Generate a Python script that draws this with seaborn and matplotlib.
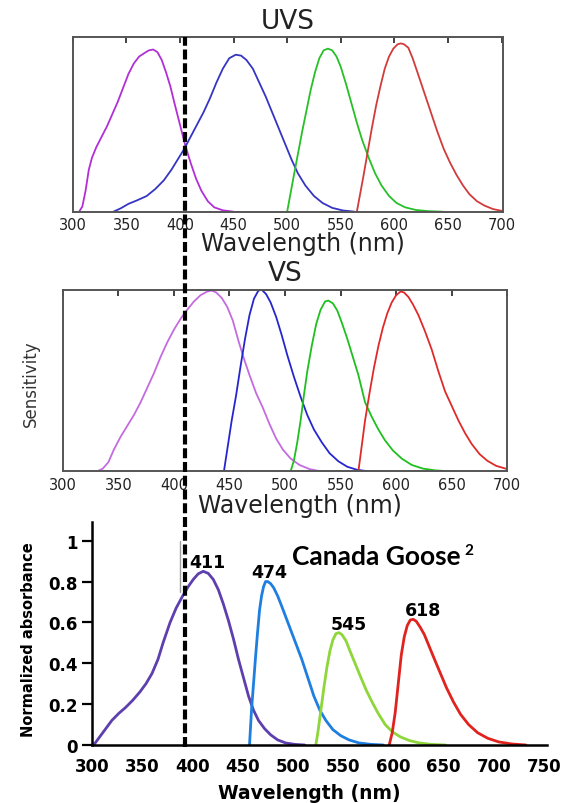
import matplotlib
matplotlib.use("Agg")
import numpy as np
import pandas as pd
import matplotlib.pyplot as plt
from matplotlib.lines import Line2D
import seaborn as sns

# ---- UVS panel: relative sensitivity ----
uvs_violet_nm = [306, 309, 312, 315, 318, 322, 327, 332, 337, 342, 347, 352, 357, 362, 367, 371,
                 375, 379, 383, 387, 391, 395, 400, 405, 410, 415, 420, 426, 432, 440, 450]
uvs_violet = [0, 0.03, 0.12, 0.24, 0.31, 0.37, 0.43, 0.49, 0.56, 0.63, 0.71, 0.79, 0.85, 0.89, 0.91, 0.925,
              0.93, 0.915, 0.87, 0.80, 0.72, 0.62, 0.50, 0.38, 0.28, 0.19, 0.12, 0.06, 0.025, 0.008, 0]
uvs_blue_nm = [338, 345, 352, 360, 369, 377, 385, 392, 398, 404, 410, 416, 422, 428, 434, 440, 446,
               452, 457, 462, 468, 474, 480, 486, 492, 498, 504, 510, 517, 525, 533, 542, 552, 563]
uvs_blue = [0, 0.02, 0.045, 0.065, 0.09, 0.13, 0.18, 0.24, 0.30, 0.36, 0.43, 0.50, 0.57, 0.65, 0.74, 0.82, 0.88,
            0.90, 0.895, 0.87, 0.82, 0.74, 0.66, 0.57, 0.48, 0.39, 0.30, 0.22, 0.15, 0.09, 0.05, 0.022, 0.007, 0]
uvs_green_nm = [500, 503, 506, 510, 514, 518, 522, 526, 530, 534, 538, 542, 546, 550, 555, 560, 565,
                570, 576, 582, 588, 595, 602, 610, 620, 632, 645]
uvs_green = [0, 0.1, 0.2, 0.33, 0.46, 0.58, 0.70, 0.80, 0.88, 0.925, 0.935, 0.925, 0.89, 0.83, 0.73, 0.62, 0.51,
             0.41, 0.31, 0.22, 0.15, 0.09, 0.05, 0.025, 0.01, 0.003, 0]
uvs_red_nm = [565, 568, 571, 575, 579, 583, 587, 591, 595, 599, 603, 606, 609, 613, 617, 622, 628, 634,
              640, 646, 652, 658, 664, 670, 677, 684, 692, 700]
uvs_red = [0, 0.1, 0.2, 0.34, 0.48, 0.61, 0.72, 0.82, 0.89, 0.935, 0.96, 0.965, 0.96, 0.94, 0.88, 0.79, 0.68, 0.57,
           0.46, 0.36, 0.28, 0.21, 0.15, 0.10, 0.06, 0.035, 0.015, 0.005]

# ---- VS panel ----
vs_violet_nm = [331, 336, 341, 346, 352, 358, 364, 370, 376, 382, 388, 394, 400, 406, 412, 418, 424, 430,
                434, 438, 443, 448, 453, 458, 463, 468, 474, 480, 486, 492, 498, 505, 513, 522, 532]
vs_violet = [0, 0.015, 0.05, 0.12, 0.19, 0.25, 0.31, 0.38, 0.46, 0.54, 0.63, 0.71, 0.78, 0.84, 0.89, 0.935, 0.97, 0.99,
             0.995, 0.985, 0.955, 0.905, 0.83, 0.72, 0.62, 0.53, 0.43, 0.35, 0.26, 0.18, 0.12, 0.07, 0.035, 0.012, 0]
vs_blue_nm = [445, 448, 452, 456, 460, 464, 468, 472, 476, 479, 483, 487, 492, 497, 502, 508, 514, 520,
              526, 533, 540, 548, 556, 565, 575]
vs_blue = [0, 0.12, 0.28, 0.42, 0.58, 0.73, 0.86, 0.95, 0.995, 1.0, 0.975, 0.93, 0.85, 0.75, 0.64, 0.52, 0.41, 0.31,
           0.23, 0.16, 0.10, 0.055, 0.025, 0.008, 0]
vs_green_nm = [505, 508, 511, 514, 517, 520, 524, 528, 532, 536, 539, 543, 547, 551, 556, 561, 566, 572,
               578, 584, 590, 597, 605, 614, 624, 635, 648]
vs_green = [0, 0.06, 0.16, 0.28, 0.42, 0.55, 0.69, 0.81, 0.89, 0.935, 0.94, 0.925, 0.885, 0.82, 0.73, 0.63, 0.53, 0.38,
            0.30, 0.23, 0.17, 0.115, 0.07, 0.035, 0.015, 0.005, 0]
vs_red_nm = [566, 569, 572, 576, 580, 584, 588, 592, 596, 600, 604, 607, 611, 615, 620, 626, 632, 638,
             644, 650, 656, 662, 668, 675, 682, 690, 700]
vs_red = [0, 0.14, 0.28, 0.43, 0.57, 0.69, 0.79, 0.87, 0.93, 0.97, 0.99, 0.985, 0.96, 0.92, 0.86, 0.77, 0.67, 0.55,
          0.44, 0.36, 0.28, 0.21, 0.15, 0.095, 0.058, 0.03, 0.012]

# ---- Canada goose normalized absorbance ----
goose_peaks = [411, 474, 545, 618]
goose_violet_nm = [302, 308, 314, 320, 327, 334, 341, 348, 354, 360, 366, 371, 378, 384, 390, 396, 401, 406,
                   411, 416, 421, 426, 431, 436, 441, 446, 451, 456, 461, 466, 472, 478, 485, 493, 502, 512]
goose_violet = [0, 0.04, 0.08, 0.12, 0.155, 0.185, 0.22, 0.26, 0.30, 0.35, 0.42, 0.50, 0.60, 0.67, 0.725, 0.775, 0.81, 0.838,
                0.85, 0.84, 0.81, 0.76, 0.69, 0.61, 0.52, 0.42, 0.33, 0.24, 0.17, 0.12, 0.08, 0.05, 0.025, 0.01, 0.003, 0]
goose_blue_nm = [457, 459, 461, 463, 465, 467, 469, 471, 473, 475, 478, 481, 485, 489, 494, 499, 504, 509,
                 515, 521, 527, 533, 540, 548, 556, 566, 578, 590]
goose_blue = [0, 0.17, 0.3, 0.43, 0.55, 0.66, 0.73, 0.775, 0.8, 0.8, 0.79, 0.77, 0.73, 0.68, 0.615, 0.55, 0.485, 0.42,
              0.33, 0.24, 0.17, 0.12, 0.075, 0.045, 0.025, 0.01, 0.003, 0]
goose_green_nm = [523, 525, 528, 531, 534, 537, 540, 543, 546, 549, 553, 557, 562, 567, 573, 579, 585, 592,
                  599, 607, 616, 626, 638, 652]
goose_green = [0, 0.06, 0.17, 0.28, 0.38, 0.46, 0.515, 0.545, 0.55, 0.54, 0.51, 0.46, 0.40, 0.34, 0.27, 0.21, 0.155, 0.10,
               0.065, 0.04, 0.022, 0.01, 0.003, 0]
goose_red_nm = [596, 599, 602, 605, 608, 611, 614, 617, 620, 623, 627, 631, 636, 641, 647, 653, 660, 667,
                675, 684, 694, 705, 718, 732]
goose_red = [0, 0.06, 0.16, 0.3, 0.44, 0.53, 0.585, 0.612, 0.615, 0.605, 0.575, 0.54, 0.48, 0.42, 0.35, 0.28, 0.21, 0.15,
             0.1, 0.06, 0.033, 0.015, 0.005, 0]

# dashed cut line (goose axis units) and the grey scan artefact next to it
cutoff_nm = 393
artefact_nm = 388
artefact_span = [0.75, 1.0]


def long_table(curves):
    frames = []
    for name, (nm, val) in curves.items():
        frames.append(pd.DataFrame({"nm": nm, "val": val, "cone": name}))
    return pd.concat(frames, ignore_index=True)


uvs_df = long_table({"violet": (uvs_violet_nm, uvs_violet), "blue": (uvs_blue_nm, uvs_blue),
                     "green": (uvs_green_nm, uvs_green), "red": (uvs_red_nm, uvs_red)})
vs_df = long_table({"violet": (vs_violet_nm, vs_violet), "blue": (vs_blue_nm, vs_blue),
                    "green": (vs_green_nm, vs_green), "red": (vs_red_nm, vs_red)})
goose_df = long_table({"violet": (goose_violet_nm, goose_violet), "blue": (goose_blue_nm, goose_blue),
                       "green": (goose_green_nm, goose_green), "red": (goose_red_nm, goose_red)})

uvs_pal = {"violet": "#b22fd6", "blue": "#3535c4", "green": "#27c027", "red": "#d23b3b"}
vs_pal = {"violet": "#c46be0", "blue": "#2626cf", "green": "#1fbf1f", "red": "#e02a2a"}
goose_pal = {"violet": "#5e3fae", "blue": "#1f7fe0", "green": "#8ed63a", "red": "#e0231f"}

sns.set_style("white")
plt.rcParams["font.family"] = ["DejaVu Sans"]
plt.rcParams["text.color"] = "black"

W, H = 573, 804
fig = plt.figure(figsize=(W / 100, H / 100), dpi=100)
fig.patch.set_facecolor("white")


def px_axes(left, top, right, bottom):
    return fig.add_axes([left / W, 1 - bottom / H, (right - left) / W, (bottom - top) / H])


ax1 = px_axes(72.7, 38.3, 502.7, 212.7)
ax2 = px_axes(62.8, 290.7, 507.3, 472.3)
ax3 = px_axes(91.7, 523.3, 546.7, 746.0)

# ---- top two panels (MATLAB-like boxes) ----
for ax, df, pal, title, xmax in [(ax1, uvs_df, uvs_pal, "UVS", 701), (ax2, vs_df, vs_pal, "VS", 700)]:
    sns.lineplot(data=df, x="nm", y="val", hue="cone", palette=pal, estimator=None,
                 linewidth=1.3, legend=False, ax=ax)
    ax.set_xlim(300, xmax)
    ax.set_ylim(0, 1.0)
    ax.set_yticks([])
    ax.set_xticks(range(300, 701, 50))
    ax.tick_params(axis="x", direction="in", top=True, bottom=False, labelbottom=True,
                   length=4, width=1.3, color="#333333", labelsize=10.5, labelcolor="#222222", pad=4)
    for s in ax.spines.values():
        s.set_visible(True)
        s.set_color("#555555")
        s.set_linewidth(1.4)
    ax.set_title(title, fontsize=19, color="#222222", pad=7)
    ax.set_xlabel("Wavelength (nm)", fontsize=17, color="#222222")
    ax.xaxis.label.set_va("center")
    ax.set_ylabel("")

ax1.xaxis.set_label_coords(0.536, -0.18)
ax2.xaxis.set_label_coords(0.534, -0.186)
ax2.set_ylabel("Sensitivity", fontsize=12, color="#333333")
ax2.yaxis.label.set_va("center")
ax2.yaxis.set_label_coords(-0.0715, 0.486)

# ---- Canada goose panel ----
sns.lineplot(data=goose_df, x="nm", y="val", hue="cone", palette=goose_pal, estimator=None,
             linewidth=2.0, legend=False, ax=ax3)
ax3.plot([artefact_nm, artefact_nm], artefact_span, color="#a0a0a0", lw=1.0, zorder=1)
ax3.set_xlim(300, 752.7)
ax3.set_ylim(0, 1.09)
ax3.set_xticks(range(300, 751, 50))
ax3.set_yticks([0, 0.2, 0.4, 0.6, 0.8, 1.0])
ax3.set_yticklabels(["0", "0.2", "0.4", "0.6", "0.8", "1"])
ax3.tick_params(axis="y", direction="out", left=True, length=7, width=1.6, color="black",
                labelsize=12, labelcolor="black", pad=3)
ax3.tick_params(axis="x", bottom=False, length=0, labelsize=12, labelcolor="black", pad=8.5)
for lab in ax3.get_xticklabels() + ax3.get_yticklabels():
    lab.set_fontweight("bold")
for side in ["top", "right"]:
    ax3.spines[side].set_visible(False)
for side in ["left", "bottom"]:
    ax3.spines[side].set_color("black")
    ax3.spines[side].set_linewidth(1.8)
ax3.set_xlabel("Wavelength (nm)", fontsize=13.5, fontweight="bold", color="black")
ax3.xaxis.label.set_va("baseline")
ax3.xaxis.set_label_coords(0.478, -0.238)
ax3.set_ylabel("Normalized absorbance", fontsize=10.5, fontweight="bold", color="black")
ax3.yaxis.label.set_va("center")
ax3.yaxis.set_label_coords(-0.138, 0.478)

label_dx = [4, 4, 10, 10]
for (name, grp), peak, dx in zip(goose_df.groupby("cone", sort=False), goose_peaks, label_dx):
    i = grp["val"].idxmax()
    ax3.text(grp.loc[i, "nm"] + dx, grp.loc[i, "val"] + 0.02, str(peak), ha="center", va="baseline",
             fontsize=12.5, fontweight="bold", color="black")

goose_txt = ax3.text(0.44, 0.813, "Canada Goose", transform=ax3.transAxes, ha="left", va="baseline",
                     fontsize=19, fontweight="bold", color="black", family=["Lato", "DejaVu Sans"])
ax3.annotate("2", xy=(1, 0), xycoords=goose_txt, xytext=(3, 10), textcoords="offset points",
             ha="left", va="baseline", fontsize=11, fontweight="bold", color="black",
             family=["Lato", "DejaVu Sans"])

# ---- dashed cut line running through all three panels ----
x_disp = ax3.transData.transform((cutoff_nm, 0))[0]
x_fig = fig.transFigure.inverted().transform((x_disp, 0))[0]
y_bot = ax3.get_position().y0 - 2 / H
y_top = ax1.get_position().y1
fig.add_artist(Line2D([x_fig, x_fig], [y_bot, y_top], color="black", lw=3.0,
                      linestyle=(0, (2.4, 0.9)), zorder=10))

fig.savefig("out.png", dpi=100, facecolor="white")
